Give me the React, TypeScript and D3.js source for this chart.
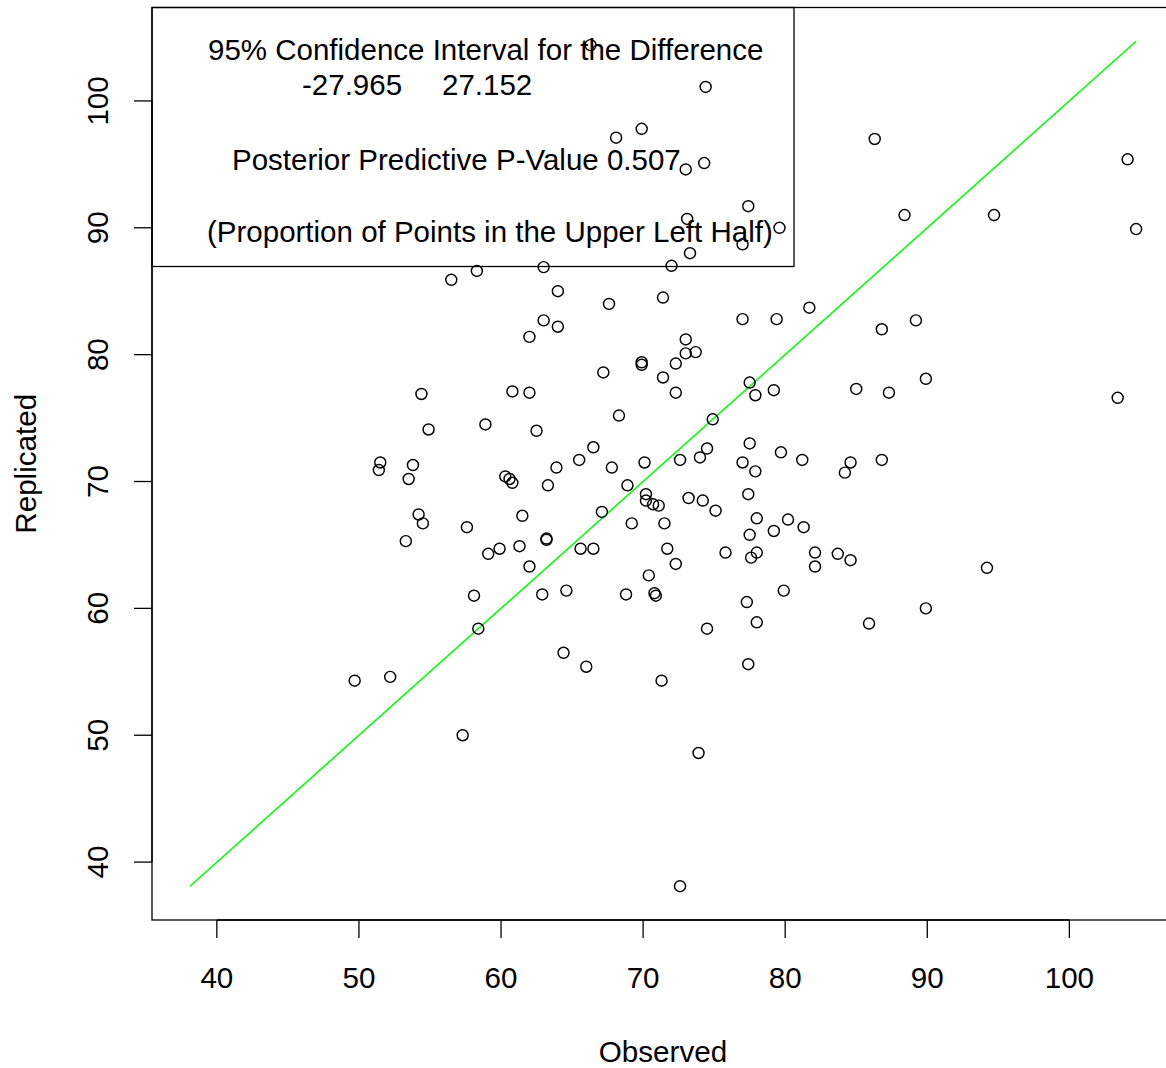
import React from "react";
import * as d3 from "d3";

const observed: number[] = [
  66.3, 74.4, 68.1, 69.9, 73.0, 74.3, 73.1, 77.4, 79.6, 77.0,
  73.3, 86.3, 104.1, 104.7, 88.4, 94.7, 56.5, 58.3, 63.0, 72.0,
  64.0, 67.6, 71.4, 77.0, 79.4, 81.7, 86.8, 89.2, 63.0, 64.0,
  62.0, 73.0, 73.0, 73.7, 69.9, 69.9, 72.3, 67.2, 71.4, 54.4,
  60.8, 62.0, 72.3, 77.5, 77.9, 79.2, 85.0, 87.3, 89.9, 103.4,
  54.9, 58.9, 62.5, 68.3, 74.9, 66.5, 65.5, 63.9, 67.8, 51.5,
  51.4, 53.8, 53.5, 60.3, 60.6, 60.8, 63.3, 68.9, 70.1, 72.6,
  74.0, 74.5, 77.5, 79.7, 77.0, 77.9, 81.2, 84.2, 84.6, 86.8,
  70.2, 70.2, 70.7, 71.1, 73.2, 74.2, 75.1, 77.4, 78.0, 80.2,
  79.2, 81.3, 77.5, 69.2, 71.5, 54.2, 54.5, 53.3, 57.6, 61.5,
  67.1, 63.2, 63.2, 59.1, 59.9, 61.3, 62.0, 65.6, 66.5, 71.7,
  72.3, 70.4, 75.8, 78.0, 77.6, 82.1, 82.1, 83.7, 84.6, 94.2,
  58.1, 58.4, 62.9, 64.6, 68.8, 70.8, 70.9, 79.9, 77.3, 78.0,
  74.5, 89.9, 85.9, 49.7, 52.2, 64.4, 66.0, 71.3, 77.4, 57.3, 73.9, 72.6,
];

const replicated: number[] = [
  104.4, 101.1, 97.1, 97.8, 94.6, 95.1, 90.7, 91.7, 90.0, 88.7,
  88.0, 97.0, 95.4, 89.9, 91.0, 91.0, 85.9, 86.6, 86.9, 87.0,
  85.0, 84.0, 84.5, 82.8, 82.8, 83.7, 82.0, 82.7, 82.7, 82.2,
  81.4, 81.2, 80.1, 80.2, 79.4, 79.2, 79.3, 78.6, 78.2, 76.9,
  77.1, 77.0, 77.0, 77.8, 76.8, 77.2, 77.3, 77.0, 78.1, 76.6,
  74.1, 74.5, 74.0, 75.2, 74.9, 72.7, 71.7, 71.1, 71.1, 71.5,
  70.9, 71.3, 70.2, 70.4, 70.2, 69.9, 69.7, 69.7, 71.5, 71.7,
  71.9, 72.6, 73.0, 72.3, 71.5, 70.8, 71.7, 70.7, 71.5, 71.7,
  69.0, 68.5, 68.2, 68.1, 68.7, 68.5, 67.7, 69.0, 67.1, 67.0,
  66.1, 66.4, 65.8, 66.7, 66.7, 67.4, 66.7, 65.3, 66.4, 67.3,
  67.6, 65.5, 65.4, 64.3, 64.7, 64.9, 63.3, 64.7, 64.7, 64.7,
  63.5, 62.6, 64.4, 64.4, 64.0, 64.4, 63.3, 64.3, 63.8, 63.2,
  61.0, 58.4, 61.1, 61.4, 61.1, 61.2, 61.0, 61.4, 60.5, 58.9,
  58.4, 60.0, 58.8, 54.3, 54.6, 56.5, 55.4, 54.3, 55.6, 50.0, 48.6, 38.1,
];

const tickValues: number[] = [40, 50, 60, 70, 80, 90, 100];
const ciLabel = "95% Confidence Interval for the Difference";
const ciLower = "-27.965";
const ciUpper = "27.152";
const pValueLabel = "Posterior Predictive P-Value 0.507";
const proportionLabel = "(Proportion of Points in the Upper Left Half)";
const xTitle = "Observed";
const yTitle = "Replicated";

const FONT = "'Liberation Sans', Arial, Helvetica, sans-serif";

export default function App() {
  const W = 1166;
  const H = 1068;
  const left = 152;
  const right = 1174;
  const top = 7.5;
  const bottom = 920;

  const all = observed.concat(replicated);
  const [lo, hi] = d3.extent(all) as [number, number];
  const pad = (hi - lo) * 0.04;
  const domain: [number, number] = [lo - pad, hi + pad];

  const x = d3.scaleLinear().domain(domain).range([left, right]);
  const y = d3.scaleLinear().domain(domain).range([bottom, top]);

  const pts = observed.map((o, i) => ({ o, r: replicated[i] }));
  const line = d3.line<number>().x((d) => x(d)).y((d) => y(d));

  return (
    <svg
      width={W}
      height={H}
      style={{ position: "absolute", left: 0, top: 0, display: "block", background: "#fff" }}
      fontFamily={FONT}
    >
      <rect x={0} y={0} width={W} height={H} fill="#fff" />
      {/* identity line */}
      <path d={line([lo, hi]) || ""} stroke="#00ff00" strokeWidth={1.5} fill="none" />
      {/* points */}
      {pts.map((p, i) => (
        <circle key={i} cx={x(p.o)} cy={y(p.r)} r={5.5} fill="none" stroke="#000" strokeWidth={1.45} />
      ))}
      {/* plot box */}
      <rect x={left} y={top} width={right - left} height={bottom - top} fill="none" stroke="#000" strokeWidth={1.3} />
      {/* x axis */}
      <line x1={x(tickValues[0])} x2={x(tickValues[tickValues.length - 1])} y1={bottom} y2={bottom} stroke="#000" strokeWidth={1.3} />
      {tickValues.map((t) => (
        <g key={"xt" + t}>
          <line x1={x(t)} x2={x(t)} y1={bottom} y2={bottom + 18} stroke="#000" strokeWidth={1.3} />
          <text x={x(t)} y={987.5} textAnchor="middle" fontSize={29.6} fill="#000">{t}</text>
        </g>
      ))}
      {/* y axis */}
      <line x1={left} x2={left} y1={y(tickValues[0])} y2={y(tickValues[tickValues.length - 1])} stroke="#000" strokeWidth={1.3} />
      {tickValues.map((t) => (
        <g key={"yt" + t}>
          <line x1={left} x2={left - 18} y1={y(t)} y2={y(t)} stroke="#000" strokeWidth={1.3} />
          <text transform={`translate(108,${y(t)}) rotate(-90)`} textAnchor="middle" fontSize={29.6} fill="#000">{t}</text>
        </g>
      ))}
      {/* axis titles */}
      <text x={(left + right) / 2} y={1061.5} textAnchor="middle" fontSize={29.6} fill="#000">{xTitle}</text>
      <text transform={`translate(35.5,${(top + bottom) / 2}) rotate(-90)`} textAnchor="middle" fontSize={29.6} fill="#000">{yTitle}</text>
      {/* legend box */}
      <rect x={left} y={top} width={794 - left} height={266.5 - top} fill="none" stroke="#000" strokeWidth={1.3} />
      <text x={208} y={59.5} fontSize={29.5} fill="#000">{ciLabel}</text>
      <text y={95} fontSize={29.5} fill="#000">
        <tspan x={302}>{ciLower}</tspan>
        <tspan x={442}>{ciUpper}</tspan>
      </text>
      <text x={232} y={170} fontSize={29.5} fill="#000">{pValueLabel}</text>
      <text x={207} y={242} fontSize={29.5} fill="#000">{proportionLabel}</text>
    </svg>
  );
}
